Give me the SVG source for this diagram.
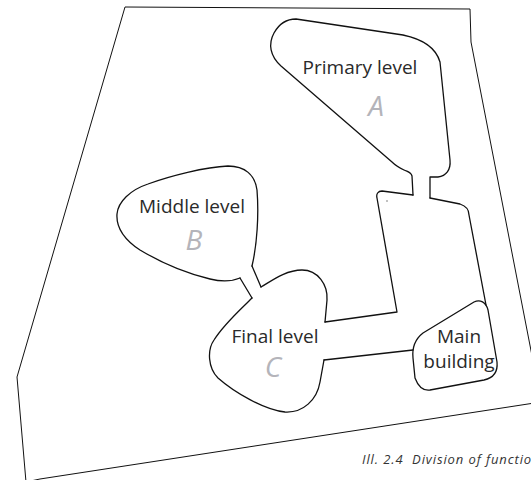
<svg xmlns="http://www.w3.org/2000/svg" width="531" height="480" viewBox="0 0 531 480">
<style>
.ln{fill:none;stroke:#111;stroke-width:1.3;stroke-linejoin:round;stroke-linecap:round}
.bd{fill:none;stroke:#111;stroke-width:1}
.lbl{font-family:"Open Sans","Noto Sans",sans-serif;font-size:19px;fill:#2a2a2a;text-anchor:middle}
.let{font-family:"Open Sans","Noto Sans",sans-serif;font-size:28px;font-style:italic;fill:#b4b4ba;text-anchor:middle}
.cap{font-family:"Open Sans","Noto Sans",sans-serif;font-size:13px;font-style:italic;fill:#333;letter-spacing:0.9px;white-space:pre}
</style>
<rect width="531" height="480" fill="#fff"/>
<g id="site">
<path class="bd" d="M125,7 L470,9 L471,42 L541,402 L40,479 L26,482 L17,377 Z"/>
</g>
<g id="connectors">
<path class="ln" d="M413,195 L382,191 C378,191 376,194 377,198 L397,312 L325,322"/>
<path class="ln" d="M430,198 L460,204 C466,206 469,210 469,215 L486,305"/>
<path class="ln" d="M324,360 L413,350"/>
<path class="ln" d="M240,278 L252,298"/>
<path class="ln" d="M252,266 L261,287"/>
<circle cx="387" cy="201" r="0.7" fill="#555"/>
</g>
<g id="nodeA">
<path class="ln" d="M413,195 L412,176 C411,172 408,172 404,170 C400,168 396,166 392,162 L281,66 C270,56 268,44 274,33 C279,24 287,19 296,19 L403,35 C422,39 436,48 440,62 L450,160 C451,170 446,176 438,177 L430,177 L430,198"/>
<text class="lbl" x="360" y="74">Primary level</text>
<text class="let" x="376" y="116">A</text>
</g>
<g id="nodeB">
<path class="ln" d="M252,266 C257,245 259,215 257,190 C255,175 245,166 228,166 C205,167 170,176 148,184 C130,190 118,202 117,214 C116,228 125,240 140,250 C160,262 185,273 210,279 C222,282 233,281 240,278"/>
<text class="lbl" x="192" y="213">Middle level</text>
<text class="let" x="194" y="250">B</text>
</g>
<g id="nodeC">
<path class="ln" d="M261,287 C270,282 285,270 302,270 C318,270 328,285 327,300 L325,322"/>
<path class="ln" d="M324,360 L320,382 C317,400 303,413 285,412 C265,410 235,393 218,378 C208,368 207,350 214,340 C224,324 240,310 252,298"/>
<text class="lbl" x="275" y="343">Final level</text>
<text class="let" x="273" y="377">C</text>
</g>
<g id="nodeMain">
<path class="ln" d="M423,333 L474,302 C480,299 486,302 488,310 L497,362 C498,372 493,378 484,380 L430,390 C423,391 418,386 415,378 L413,358 C412,348 414,340 423,333 Z"/>
<text class="lbl" x="459" y="343">Main</text>
<text class="lbl" x="459" y="368">building</text>
</g>
<text class="cap" x="362" y="464" xml:space="preserve">Ill. 2.4  Division of functions</text>
</svg>
